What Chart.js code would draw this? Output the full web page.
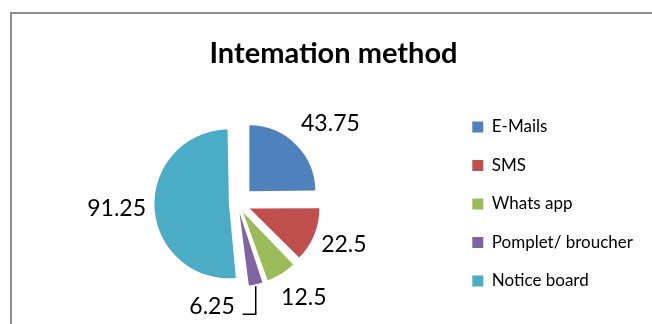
<!DOCTYPE html>
<html>
<head>
<meta charset="utf-8">
<script src="https://cdn.jsdelivr.net/npm/chart.js@4"></script>
<style>
  body { margin: 0; background: #fff; }
  #wrap { position: relative; width: 652px; height: 324px; overflow: hidden; }
  #frame { position: absolute; left: 10px; top: 12px; width: 700px; height: 400px;
           border-left: 2px solid #8e8e8e; border-top: 2px solid #8e8e8e; }
  canvas { position: absolute; left: 0; top: 0; }
</style>
</head>
<body>
<div id="wrap">
  <div id="frame"></div>
  <canvas id="methodChart" width="652" height="324"></canvas>
</div>
<script>
'use strict'
const categories = ['E-Mails', 'SMS', 'Whats app', 'Pomplet/ broucher', 'Notice board'];
const values = [43.75, 22.5, 12.5, 6.25, 91.25];
const colors = ['#4F81BD', '#C0504D', '#9BBB59', '#8064A2', '#4BACC6'];

// every slice is pulled out by the same distance, like Excel's exploded pie
const shift = 17;
const leaderIndex = 3;
// small hand nudges of the value labels (Excel "best fit" is not purely radial)
const labelNudge = [[9, 5], [-1, -3], [7, -1], [0, 0], [0, -1.5]];

const total = values.reduce((a, b) => a + b, 0);
const sliceOffset = (c) => {
  const circ = values[c.dataIndex] / total * Math.PI * 2;
  const fix = 1 - Math.sin(Math.min(Math.PI, circ));
  return 4 * shift / (1 + fix);
};

const valueLabels = {
  id: 'valueLabels',
  afterDatasetsDraw(chart) {
    const ctx = chart.ctx;
    const meta = chart.getDatasetMeta(0);
    ctx.save();
    ctx.font = '23px Lato';
    ctx.fillStyle = '#000';
    ctx.strokeStyle = '#000';
    ctx.lineWidth = 1.5;
    ctx.textAlign = 'center';
    ctx.textBaseline = 'middle';
    meta.data.forEach((arc, i) => {
      const p = arc.getProps(['x', 'y', 'startAngle', 'endAngle', 'outerRadius']);
      const mid = (p.startAngle + p.endAngle) / 2;
      const dx = Math.cos(mid), dy = Math.sin(mid);
      const text = String(values[i]);
      const w = ctx.measureText(text).width, h = 22;
      const tipX = p.x + dx * (shift + p.outerRadius);
      const tipY = p.y + dy * (shift + p.outerRadius);
      if (i === leaderIndex) {
        ctx.fillText(text, tipX - 21 - w / 2, tipY + 22);
        ctx.beginPath();
        ctx.moveTo(tipX, tipY + 2);
        ctx.lineTo(tipX, tipY + 30);
        ctx.lineTo(tipX - 13, tipY + 30);
        ctx.stroke();
      } else {
        const d = 8 + 0.5 * (Math.abs(dx) * w + Math.abs(dy) * h);
        ctx.fillText(text, tipX + dx * d + labelNudge[i][0], tipY + dy * d + labelNudge[i][1]);
      }
    });
    ctx.restore();
  }
};

const methodChart = new Chart(document.getElementById('methodChart'), {
  type: 'pie',
  data: {
    labels: categories,
    datasets: [{
      data: values,
      backgroundColor: colors,
      borderWidth: 0,
      offset: sliceOffset,
    }],
  },
  options: {
    responsive: false,
    animation: false,
    radius: 66,
    layout: { padding: { left: 24, right: 9, top: 0, bottom: 13 } },
    plugins: {
      title: {
        display: true,
        text: 'Intemation method',
        color: '#000',
        font: { family: 'Lato', size: 29, weight: 'bold', lineHeight: 1.2 },
        padding: { top: 36, bottom: 25 },
      },
      legend: {
        position: 'right',
        align: 'end',
        labels: {
          boxWidth: 11,
          boxHeight: 11,
          padding: 21.5,
          color: '#000',
          font: { family: 'Lato', size: 17 },
        },
      },
      tooltip: { enabled: false },
    },
  },
  plugins: [valueLabels],
});
</script>
</body>
</html>
